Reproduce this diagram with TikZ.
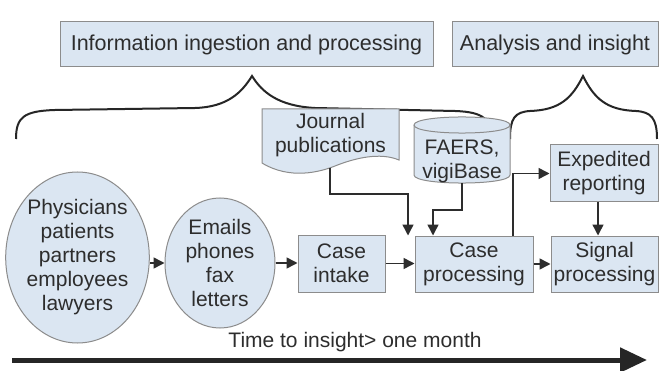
\documentclass[tikz,border=0pt]{standalone}
\usepackage{fontspec}
\setmainfont{Liberation Sans}
\usetikzlibrary{shapes.geometric,arrows.meta}
\definecolor{boxfill}{RGB}{219,230,242}
\definecolor{boxline}{RGB}{140,140,140}
\definecolor{txt}{RGB}{45,45,45}
\definecolor{lin}{RGB}{45,45,45}
\begin{document}
\begin{tikzpicture}[x=1pt,y=-1pt,
  every node/.style={font=\fontsize{21}{24}\selectfont, text=txt, inner sep=0pt, align=center},
  box/.style={draw=boxline, fill=boxfill, line width=1pt},
  oval/.style={ellipse, draw=boxline, fill=boxfill, line width=1pt},
  arr/.style={draw=lin, line width=1.5pt, -{Triangle[length=11pt,width=11pt]}},
  bigarr/.style={draw=black!85, line width=5pt, -{Triangle[length=27pt,width=24pt]}},
  brace/.style={draw=black!85, line width=2pt}]
\useasboundingbox (0,0) rectangle (660,371);
\fill[white] (0,0) rectangle (660,371);

% top labels
\node[box, minimum width=373, minimum height=45, font=\fontsize{21.5}{24}\selectfont] (info) at (246.5,44.5) {Information ingestion and processing};
\node[box, minimum width=206, minimum height=45, font=\fontsize{21.5}{24}\selectfont] (anal) at (555,44.5) {Analysis and insight};

% braces
\draw[brace] (16,139) .. controls (16,117) and (24,111) .. (55,110) -- (195,108) .. controls (228,107) and (242,92) .. (252,76) .. controls (262,92) and (278,106) .. (315,108) -- (455,111) .. controls (485,112) and (491,120) .. (491,139);
\draw[brace] (510,139) .. controls (510,118) and (515,112) .. (530,111) .. controls (560,110) and (572,98) .. (583,76) .. controls (594,98) and (606,110) .. (636,111) .. controls (651,112) and (657,118) .. (657,139);

% journal document shape
\draw[box] (262,109) -- (399,109) -- (399,160) .. controls (380,152) and (355,158) .. (335,166) .. controls (320,172) and (290,180) .. (262,163) -- cycle;
\node[minimum width=137, minimum height=50] (jour) at (330.5,135) {Journal\\publications};
\coordinate (jb) at (330,168);

% FAERS cylinder
\draw[box] (414,125) -- (414,175) .. controls (414,185.7) and (510,185.7) .. (510,175) -- (510,125) .. controls (510,114.3) and (414,114.3) .. (414,125) -- cycle;
\draw[draw=boxline, line width=1pt] (414,125) .. controls (414,135.7) and (510,135.7) .. (510,125);
\node[minimum width=96, minimum height=50] (faers) at (462,161) {FAERS,\\vigiBase};
\coordinate (fb) at (462,183);

% sources
\node[oval, minimum width=139, minimum height=171] (phys) at (77.5,257.5) {Physicians\\patients\\partners\\employees\\lawyers};
\node[oval, minimum width=110, minimum height=130] (emails) at (220,263) {Emails\\phones\\fax\\letters};

% boxes
\node[box, minimum width=87, minimum height=57] (intake) at (341.5,263.5) {Case\\intake};
\node[box, minimum width=118, minimum height=56] (cp) at (474,264) {Case\\processing};
\node[box, minimum width=107, minimum height=56] (sig) at (604.5,264) {Signal\\processing};
\node[box, minimum width=108, minimum height=57] (exp) at (604,173.5) {Expedited\\reporting};

% connectors
\draw[arr] (phys.east |- emails.west) -- (emails.west);
\draw[arr] (emails.east) -- (emails.east -| intake.west);
\draw[arr] (intake.east) -- (intake.east -| cp.west);
\draw[arr] (cp.east) -- (cp.east -| sig.west);
\coordinate (j1) at (408,194);
\draw[arr] (jb) |- (j1) -- (j1 |- cp.north);
\coordinate (f1) at (433,210);
\draw[arr] (fb) |- (f1) -- (f1 |- cp.north);
\coordinate (c1) at (513,0);
\draw[arr] (c1 |- cp.north) |- (exp.west);
\coordinate (e1) at (598,0);
\draw[arr] (e1 |- exp.south) -- (e1 |- sig.north);

% time arrow
\node[anchor=base] (time) at (355,347) {Time to insight> one month};
\coordinate (a0) at (12,360);
\coordinate (a1) at (647,360);
\draw[bigarr] (a0) -- (a1);
\end{tikzpicture}
\end{document}
